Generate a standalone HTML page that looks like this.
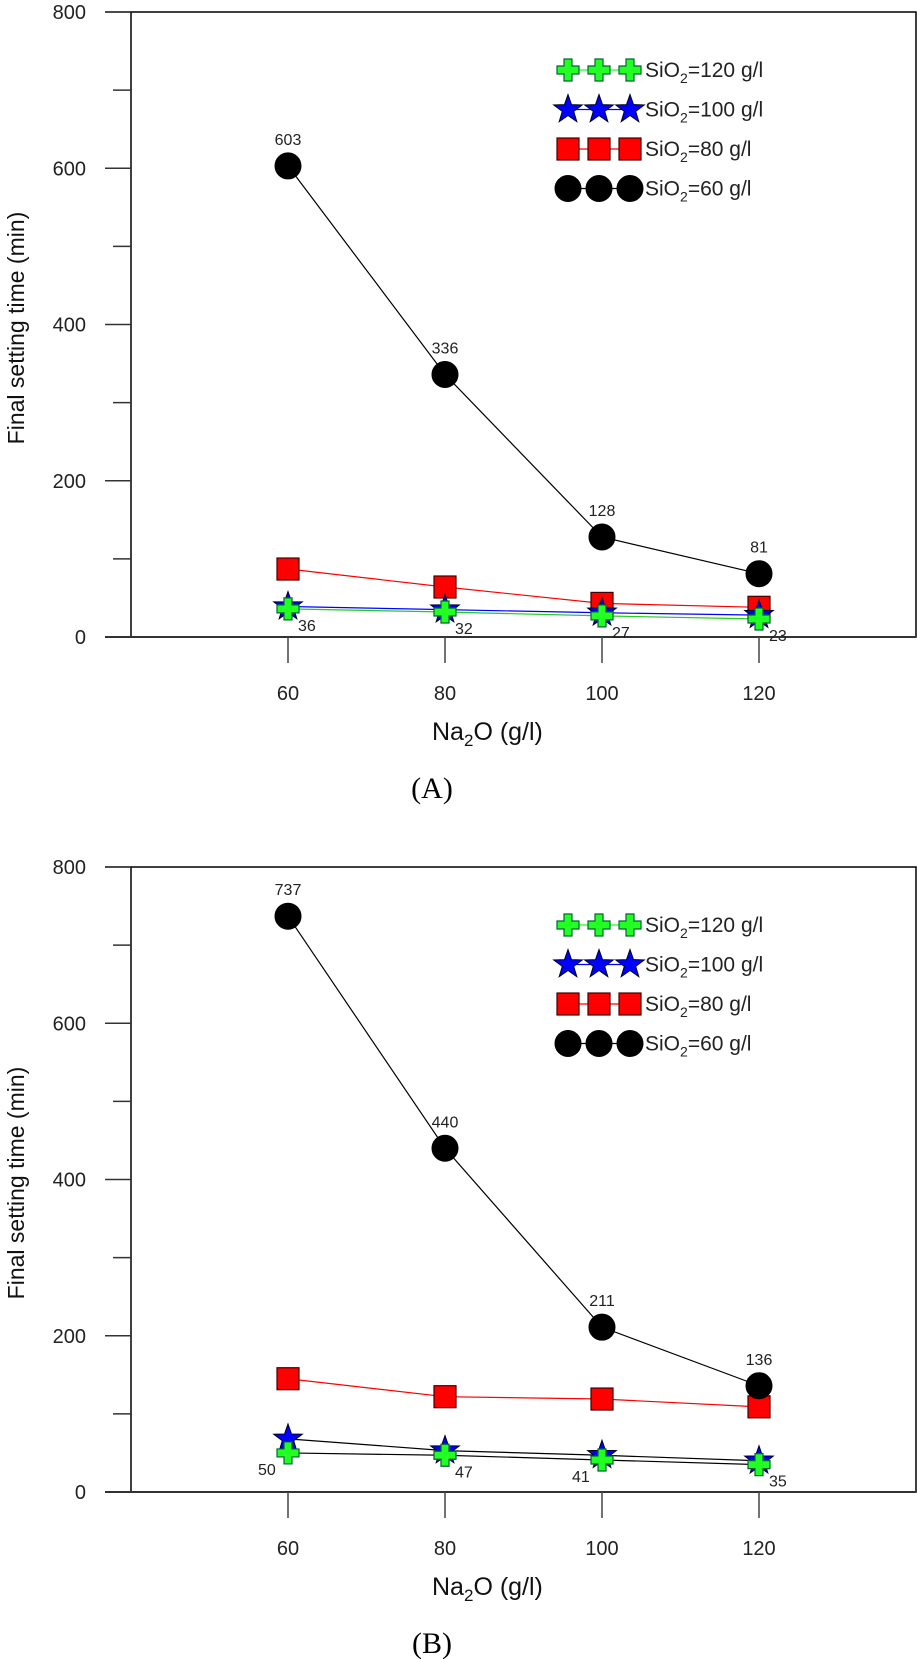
<!DOCTYPE html>
<html><head><meta charset="utf-8"><style>
html,body{margin:0;padding:0;background:#fff;}
svg{display:block;font-family:"Liberation Sans",Arial,sans-serif;}
</style></head><body>
<svg id="chart" width="917" height="1659" viewBox="0 0 917 1659" xmlns="http://www.w3.org/2000/svg"></svg>
<script>
const categories = [60, 80, 100, 120];
const yTicks = [0, 200, 400, 600, 800];
const seriesNames = ["SiO2=120 g/l", "SiO2=100 g/l", "SiO2=80 g/l", "SiO2=60 g/l"];
const aBlack = [603, 336, 128, 81];
const aRed = [87, 64, 43, 38];
const aBlue = [39, 35, 31, 28];
const aGreen = [36, 32, 27, 23];
const bBlack = [737, 440, 211, 136];
const bRed = [145, 122, 119, 109];
const bBlue = [68, 53, 47, 40];
const bGreen = [50, 47, 41, 35];

const svg = document.getElementById('chart');
const NS = 'http://www.w3.org/2000/svg';
function mk(tag, attrs, parent){const e=document.createElementNS(NS,tag);for(const k in attrs)e.setAttribute(k,attrs[k]);(parent||svg).appendChild(e);return e;}

function panel(off, label, black, red, blue, green, lineColors, greenLabelPos){
  const g = mk('g',{});
  
  
  const L=131,R=916,T=12+off,B=637+off;
  const xS=v=>288+(v-60)*(157/20);
  const yS=v=>B-v*(625/800);
  const fr=mk('path',{d:`M${L},${T} H${R} V${B} H${L} Z`,fill:'none',stroke:'#000','stroke-width':1.5},g);
  
  
  mk('line',{x1:105,y1:B,x2:L,y2:B,stroke:'#333','stroke-width':2},g);
  mk('line',{x1:L,y1:B,x2:R,y2:B,stroke:'#333','stroke-width':2},g);
  mk('line',{x1:105,y1:T,x2:L,y2:T,stroke:'#333','stroke-width':1.5},g);
  yTicks.forEach(t=>{
    mk('line',{x1:105,y1:yS(t),x2:L,y2:yS(t),stroke:'#333','stroke-width':1.5},g);
    const tx=mk('text',{x:86,y:yS(t)+7,'text-anchor':'end','font-size':20,fill:'#222'},g);
    tx.textContent=t;
    
    
    if(t<800) mk('line',{x1:113,y1:yS(t+100),x2:L,y2:yS(t+100),stroke:'#333','stroke-width':1.5},g);
  });
  categories.forEach(c=>{
    mk('line',{x1:xS(c),y1:B,x2:xS(c),y2:B+26,stroke:'#444','stroke-width':1.5},g);
    const tx=mk('text',{x:xS(c),y:B+63,'text-anchor':'middle','font-size':20,fill:'#222'},g);
    tx.textContent=c;
    
    
  });
  const yt=mk('text',{x:0,y:0,transform:`translate(24,${328+off}) rotate(-90)`,'text-anchor':'middle','font-size':23,fill:'#111'},g);
  yt.textContent='Final setting time (min)';
  
  
  const xt=mk('text',{x:432,y:103+B,'font-size':25,fill:'#111'},g);
  xt.innerHTML='Na<tspan font-size="17" dy="6">2</tspan><tspan dy="-6">O (g/l)</tspan>';
  
  
  const pl=mk('text',{x:432,y:B+161,'text-anchor':'middle','font-size':30,'font-family':'"Liberation Serif",serif',fill:'#000'},g);
  pl.textContent='('+label+')';
  
  

  function marker(type,x,y,parent){
    let e;
    if(type==='circle') e=mk('circle',{cx:x,cy:y,r:13,fill:'#000',stroke:'#000'},parent);
    else if(type==='square') e=mk('rect',{x:x-11,y:y-11,width:22,height:22,fill:'#f00',stroke:'#400','stroke-width':1.2},parent);
    else if(type==='star'){let p=[];for(let i=0;i<10;i++){const r=i%2?6:15,a=-Math.PI/2+i*Math.PI/5;p.push((x+r*Math.cos(a)).toFixed(1)+','+(y+r*Math.sin(a)).toFixed(1));}
      e=mk('polygon',{points:p.join(' '),fill:'#00f',stroke:'#002','stroke-width':1},parent);}
    else { const a=4,b=11;
      e=mk('path',{d:`M${x-a},${y-b}H${x+a}V${y-a}H${x+b}V${y+a}H${x+a}V${y+b}H${x-a}V${y+a}H${x-b}V${y-a}H${x-a}Z`,fill:'#2f2',stroke:'#063','stroke-width':1.2},parent);}
    return e;
  }
  const series=[[red,'square',lineColors[1],'red'],[black,'circle','#000','black'],[blue,'star',lineColors[2],'blue'],[green,'plus',lineColors[3],'green']];
  series.forEach(([vals,type,col,nm])=>{
    const sg=mk('g',{},g);
    
    
    mk('polyline',{points:vals.map((v,i)=>xS(categories[i])+','+yS(v)).join(' '),fill:'none',stroke:col,'stroke-width':1.2},sg);
    vals.forEach((v,i)=>{
      const m=marker(type,xS(categories[i]),yS(v),sg);
      
      
    });
  });
  black.forEach((v,i)=>{
    const t=mk('text',{x:xS(categories[i]),y:yS(v)-21,'text-anchor':'middle','font-size':16,fill:'#222'},g);
    t.textContent=v;
    
    
  });
  green.forEach((v,i)=>{
    const dx=greenLabelPos[i]>0?10:-30;
    const t=mk('text',{x:xS(categories[i])+dx,y:yS(v)+22,'font-size':16,fill:'#222'},g);
    t.textContent=v;
    
    
  });
  const lg=mk('g',{},g);
  
  
  const types=['plus','star','square','circle'],cols=['#2f2','#00f','#f00','#000'];
  seriesNames.forEach((n,k)=>{
    const y=70+k*39.5+off;
    const eg=mk('g',{},lg);
    
    
    mk('line',{x1:568,y1:y,x2:630,y2:y,stroke:cols[k],'stroke-width':1.2},eg);
    [568,599,630].forEach(x=>marker(types[k],x,y,eg));
    const t=mk('text',{x:645,y:y+7,'font-size':21,fill:'#222'},eg);
    t.innerHTML='SiO<tspan font-size="14" dy="6">2</tspan><tspan dy="-6">'+n.slice(4)+'</tspan>';
  });
}
panel(0,'A',aBlack,aRed,aBlue,aGreen,['#000','#f00','#00f','#2c2'],[1,1,1,1]);
panel(855,'B',bBlack,bRed,bBlue,bGreen,['#000','#f00','#000','#000'],[-1,1,-1,1]);
</script>
</body></html>
